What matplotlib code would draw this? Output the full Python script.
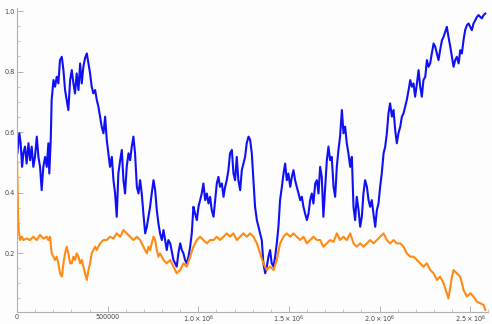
import numpy as np
import matplotlib.pyplot as plt
from matplotlib.ticker import FixedLocator, MultipleLocator

# x values in thousands
blue_x = [2, 13, 20, 28, 35, 44, 53, 63, 72, 81, 90, 99, 109, 118, 127, 136, 145, 155, 164, 173,
          178, 186, 191, 201, 210, 219, 228, 237, 247, 256, 265, 274, 283, 293, 302, 311, 320, 329,
          339, 348, 357, 366, 375, 385, 394, 403, 412, 421, 431, 440, 449, 458, 467, 477, 486, 495,
          504, 513, 523, 532, 541, 550, 559, 569, 578, 587, 596, 605, 615, 624, 633, 642, 651, 661,
          670, 679, 688, 697, 707, 716, 725, 734, 743, 753, 762, 771, 780, 789, 799, 808, 817, 826,
          835, 845, 863, 881, 890, 900, 909, 918, 927, 936, 946, 955, 964, 973, 982, 992, 1001,
          1010, 1019, 1028, 1038, 1047, 1056, 1065, 1074, 1084, 1093, 1102, 1111, 1120, 1130, 1139,
          1148, 1157, 1166, 1175, 1185, 1194, 1203, 1212, 1221, 1231, 1240, 1249, 1258, 1267, 1277,
          1286, 1295, 1304, 1313, 1323, 1332, 1341, 1350, 1359, 1369, 1378, 1387, 1396, 1405, 1415,
          1424, 1433, 1442, 1451, 1461, 1470, 1479, 1488, 1497, 1507, 1516, 1525, 1534, 1543, 1553,
          1562, 1571, 1580, 1589, 1599, 1608, 1617, 1626, 1635, 1645, 1654, 1663, 1672, 1681, 1690,
          1700, 1709, 1718, 1727, 1736, 1746, 1755, 1764, 1773, 1782, 1792, 1801, 1810, 1819, 1828,
          1838, 1847, 1856, 1865, 1874, 1884, 1893, 1902, 1911, 1920, 1930, 1939, 1948, 1957, 1966,
          1976, 1985, 1994, 2003, 2012, 2022, 2031, 2040, 2049, 2058, 2068, 2077, 2086, 2095, 2104,
          2114, 2123, 2132, 2141, 2150, 2160, 2169, 2178, 2187, 2196, 2206, 2215, 2224, 2233, 2242,
          2252, 2261, 2270, 2279, 2288, 2298, 2307, 2316, 2325, 2334, 2344, 2353, 2362, 2371, 2380,
          2390, 2399, 2408, 2417, 2426, 2436, 2445, 2454, 2463, 2472, 2482, 2491, 2500, 2509, 2518,
          2528, 2537, 2546, 2555, 2564, 2574, 2583]
blue_y = [0.53, 0.596, 0.563, 0.485, 0.53, 0.552, 0.496, 0.563, 0.507, 0.552, 0.485, 0.518, 0.585,
          0.518, 0.485, 0.408, 0.485, 0.518, 0.485, 0.563, 0.463, 0.574, 0.706, 0.772, 0.75, 0.783,
          0.761, 0.838, 0.849, 0.805, 0.739, 0.706, 0.673, 0.772, 0.805, 0.761, 0.728, 0.794, 0.739,
          0.827, 0.761, 0.816, 0.844, 0.86, 0.827, 0.794, 0.75, 0.728, 0.739, 0.706, 0.684, 0.651,
          0.618, 0.596, 0.651, 0.574, 0.53, 0.485, 0.518, 0.441, 0.397, 0.32, 0.463, 0.507, 0.541,
          0.441, 0.397, 0.485, 0.53, 0.507, 0.552, 0.585, 0.53, 0.419, 0.397, 0.441, 0.397, 0.331,
          0.265, 0.287, 0.32, 0.353, 0.397, 0.441, 0.408, 0.342, 0.298, 0.265, 0.243, 0.276, 0.243,
          0.21, 0.243, 0.232, 0.177, 0.155, 0.199, 0.232, 0.21, 0.199, 0.177, 0.166, 0.188, 0.221,
          0.265, 0.353, 0.331, 0.309, 0.353, 0.375, 0.397, 0.43, 0.375, 0.397, 0.364, 0.386, 0.342,
          0.32, 0.375, 0.43, 0.452, 0.419, 0.43, 0.386, 0.419, 0.441, 0.474, 0.53, 0.541, 0.463,
          0.441, 0.518, 0.441, 0.408, 0.474, 0.496, 0.518, 0.563, 0.585, 0.574, 0.53, 0.441, 0.353,
          0.309, 0.287, 0.265, 0.243, 0.166, 0.133, 0.155, 0.188, 0.21, 0.166, 0.155, 0.188, 0.232,
          0.287, 0.375, 0.419, 0.463, 0.496, 0.441, 0.463, 0.419, 0.452, 0.474, 0.441, 0.419, 0.397,
          0.375, 0.386, 0.353, 0.331, 0.309, 0.331, 0.375, 0.397, 0.364, 0.43, 0.441, 0.397, 0.485,
          0.452, 0.32, 0.419, 0.507, 0.552, 0.507, 0.518, 0.419, 0.386, 0.485, 0.541, 0.585, 0.673,
          0.596, 0.618, 0.563, 0.53, 0.485, 0.518, 0.353, 0.309, 0.386, 0.342, 0.287, 0.32, 0.397,
          0.441, 0.419, 0.375, 0.353, 0.375, 0.331, 0.287, 0.342, 0.364, 0.419, 0.463, 0.53, 0.552,
          0.596, 0.662, 0.695, 0.651, 0.673, 0.607, 0.563, 0.596, 0.618, 0.651, 0.662, 0.684, 0.706,
          0.739, 0.772, 0.75, 0.761, 0.717, 0.761, 0.805, 0.75, 0.717, 0.772, 0.783, 0.838, 0.816,
          0.827, 0.86, 0.893, 0.882, 0.86, 0.838, 0.871, 0.904, 0.915, 0.932, 0.948, 0.915, 0.882,
          0.849, 0.816, 0.838, 0.849, 0.827, 0.871, 0.86, 0.904, 0.937, 0.954, 0.959, 0.948, 0.937,
          0.959, 0.97, 0.981, 0.987, 0.981, 0.976, 0.987, 0.992]

orange_x = [0, 6, 9, 17, 26, 35, 53, 72, 90, 109, 127, 145, 164, 173, 182, 191, 201, 210, 219, 228,
            237, 247, 256, 265, 274, 283, 293, 302, 311, 320, 329, 339, 348, 357, 366, 375, 385,
            394, 403, 412, 421, 431, 440, 458, 477, 495, 513, 532, 550, 569, 587, 605, 624, 642,
            661, 679, 697, 716, 725, 734, 743, 753, 762, 771, 780, 789, 808, 826, 845, 863, 881,
            900, 918, 936, 955, 973, 992, 1010, 1028, 1047, 1065, 1084, 1102, 1120, 1139, 1157,
            1175, 1194, 1212, 1231, 1249, 1267, 1286, 1304, 1323, 1341, 1359, 1378, 1396, 1415,
            1433, 1451, 1470, 1488, 1507, 1525, 1543, 1562, 1580, 1599, 1617, 1635, 1654, 1672,
            1690, 1709, 1727, 1746, 1764, 1782, 1801, 1819, 1838, 1856, 1874, 1893, 1911, 1930,
            1948, 1966, 1985, 2003, 2022, 2040, 2058, 2077, 2095, 2114, 2132, 2150, 2169, 2187,
            2206, 2224, 2242, 2261, 2279, 2298, 2316, 2334, 2353, 2371, 2380, 2390, 2399, 2408,
            2417, 2426, 2445, 2463, 2482, 2500, 2518, 2537, 2555, 2574, 2583]
orange_y = [0.51, 0.32, 0.276, 0.243, 0.254, 0.243, 0.248, 0.243, 0.254, 0.243, 0.26, 0.248, 0.254,
            0.243, 0.254, 0.199, 0.188, 0.177, 0.188, 0.166, 0.133, 0.122, 0.166, 0.199, 0.221,
            0.199, 0.166, 0.166, 0.188, 0.177, 0.199, 0.188, 0.166, 0.177, 0.155, 0.133, 0.111,
            0.144, 0.166, 0.199, 0.21, 0.221, 0.21, 0.232, 0.243, 0.243, 0.254, 0.248, 0.265,
            0.254, 0.276, 0.265, 0.254, 0.243, 0.254, 0.243, 0.221, 0.199, 0.221, 0.21, 0.232,
            0.254, 0.243, 0.21, 0.188, 0.199, 0.177, 0.166, 0.177, 0.155, 0.133, 0.144, 0.166,
            0.155, 0.188, 0.221, 0.243, 0.254, 0.243, 0.232, 0.243, 0.243, 0.254, 0.243, 0.254,
            0.265, 0.254, 0.265, 0.243, 0.254, 0.265, 0.254, 0.265, 0.254, 0.232, 0.199, 0.166,
            0.144, 0.155, 0.144, 0.177, 0.232, 0.254, 0.265, 0.254, 0.265, 0.254, 0.243, 0.254,
            0.232, 0.243, 0.254, 0.243, 0.243, 0.221, 0.232, 0.243, 0.237, 0.265, 0.243, 0.254,
            0.243, 0.265, 0.232, 0.221, 0.232, 0.221, 0.232, 0.243, 0.232, 0.243, 0.254, 0.265,
            0.243, 0.232, 0.243, 0.232, 0.232, 0.221, 0.199, 0.188, 0.188, 0.177, 0.166, 0.155,
            0.166, 0.144, 0.133, 0.111, 0.122, 0.1, 0.067, 0.05, 0.089, 0.122, 0.144, 0.138,
            0.133, 0.122, 0.078, 0.056, 0.067, 0.056, 0.039, 0.034, 0.028, 0.012]

x_ticks = [0, 500000, 1000000, 1500000, 2000000, 2500000]
x_tick_labels = ['0', '500000', r'$1.0\times10^{6}$', r'$1.5\times10^{6}$',
                 r'$2.0\times10^{6}$', r'$2.5\times10^{6}$']
y_ticks = [0.2, 0.4, 0.6, 0.8, 1.0]

fig = plt.figure(figsize=(4.92, 3.24), dpi=100)
fig.patch.set_facecolor('#fdfdfd')
ax = fig.add_axes([0.0346, 0.037, 0.958, 0.938])
ax.set_facecolor('#fdfdfd')

ax.plot(np.array(blue_x) * 1000, blue_y, color='#1010f5', lw=1.5)
ax.plot(np.array(orange_x) * 1000, orange_y, color='#ff8a14', lw=1.5)

ax.set_xlim(0, 2600000)
ax.set_ylim(0.005, 1.01)

for side in ['top', 'right']:
    ax.spines[side].set_visible(False)
for side in ['left', 'bottom']:
    ax.spines[side].set_color('#b0b0b0')
    ax.spines[side].set_linewidth(0.8)

ax.xaxis.set_major_locator(FixedLocator(x_ticks))
ax.set_xticklabels(x_tick_labels)
ax.xaxis.set_minor_locator(MultipleLocator(100000))
ax.yaxis.set_major_locator(FixedLocator(y_ticks))
ax.set_yticklabels([f'{v:.1f}' for v in y_ticks])
ax.yaxis.set_minor_locator(MultipleLocator(0.05))

ax.tick_params(which='both', direction='in', colors='#b0b0b0', labelcolor='#444444',
               labelsize=4.7, pad=1.5)
ax.tick_params(which='major', length=4, width=0.7)
ax.tick_params(which='minor', length=2, width=0.5)

plt.savefig('out.png', dpi=100, facecolor=fig.get_facecolor())
